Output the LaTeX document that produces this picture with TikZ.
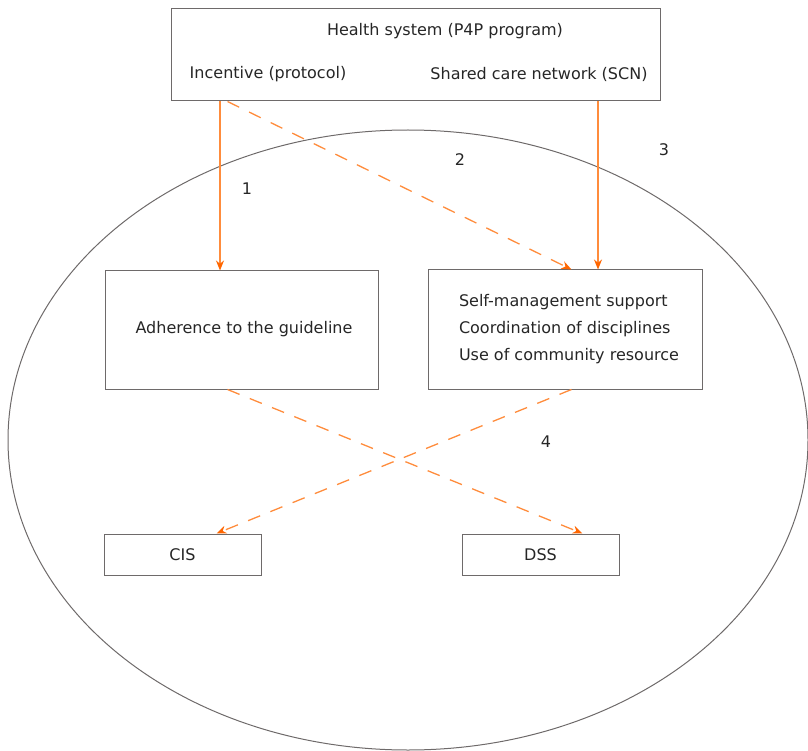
\documentclass[tikz,border=0pt]{standalone}
\usepackage{fontspec}
\setmainfont{DejaVu Sans}
\usetikzlibrary{arrows.meta}
\definecolor{boxgray}{RGB}{110,106,106}
\definecolor{lineorange}{RGB}{255,140,60}
\definecolor{tiporange}{RGB}{255,102,0}
\tikzset{
  box/.style={draw=boxgray, line width=1pt, rectangle, inner sep=0pt},
  lbl/.style={inner sep=0pt, font=\fontsize{16}{27}\selectfont, text=black!85},
  solidarr/.style={draw=lineorange, line width=1.3pt,
    -{Stealth[length=10pt,width=8pt,color=tiporange]}},
  dasharr/.style={solidarr, dash pattern=on 13pt off 11pt},
}
\begin{document}
\begin{tikzpicture}[x=1pt, y=-1pt]
\clip (0,0) rectangle (808,751);
\useasboundingbox (0,0) rectangle (808,751);

% Boundary of the practice
\draw[boxgray, line width=1pt] (408,440) ellipse [x radius=400, y radius=310];

% Define nodes
\node[box, minimum width=489pt, minimum height=92pt] (hs) at (415.5,55) {};
\node[lbl] (hstitle) at (445,31) {Health system (P4P program)};
\node[lbl] (inc) at (268,74) {Incentive (protocol)};
\node[lbl] (scn) at (539,74) {Shared care network (SCN)};

\node[box, minimum width=273pt, minimum height=118pt] (adh) at (241.5,330) {};
\node[lbl] (adhtxt) at (244,329) {Adherence to the guideline};

\node[box, minimum width=274pt, minimum height=119pt] (sms) at (565,329.5) {};
\node[lbl, align=left] (smstxt) at (569,329)
  {Self-management support\\Coordination of disciplines\\Use of community resource};

\node[box, minimum width=157pt, minimum height=41pt, lbl] (cis) at (182.5,554.5) {CIS};
\node[box, minimum width=157pt, minimum height=41pt, lbl] (dss) at (540.5,554.5) {DSS};

% Path labels
\node[lbl] (n1) at (247,189) {1};
\node[lbl] (n2) at (460,160) {2};
\node[lbl] (n3) at (664,150) {3};
\node[lbl] (n4) at (546,442) {4};

% Connect the nodes
\draw[solidarr] ([xshift=49.5pt]hs.south west) -- ([xshift=115.5pt]adh.north west);
\draw[dasharr] ([xshift=57pt]hs.south west) -- ([xshift=144pt]sms.north west);
\draw[solidarr] ([xshift=427.5pt]hs.south west) -- ([xshift=170.5pt]sms.north west);
\draw[dasharr] ([xshift=123pt]adh.south west) -- ([xshift=121pt]dss.north west);
\draw[dasharr] ([xshift=144pt]sms.south west) -- ([xshift=113pt]cis.north west);

\end{tikzpicture}
\end{document}
